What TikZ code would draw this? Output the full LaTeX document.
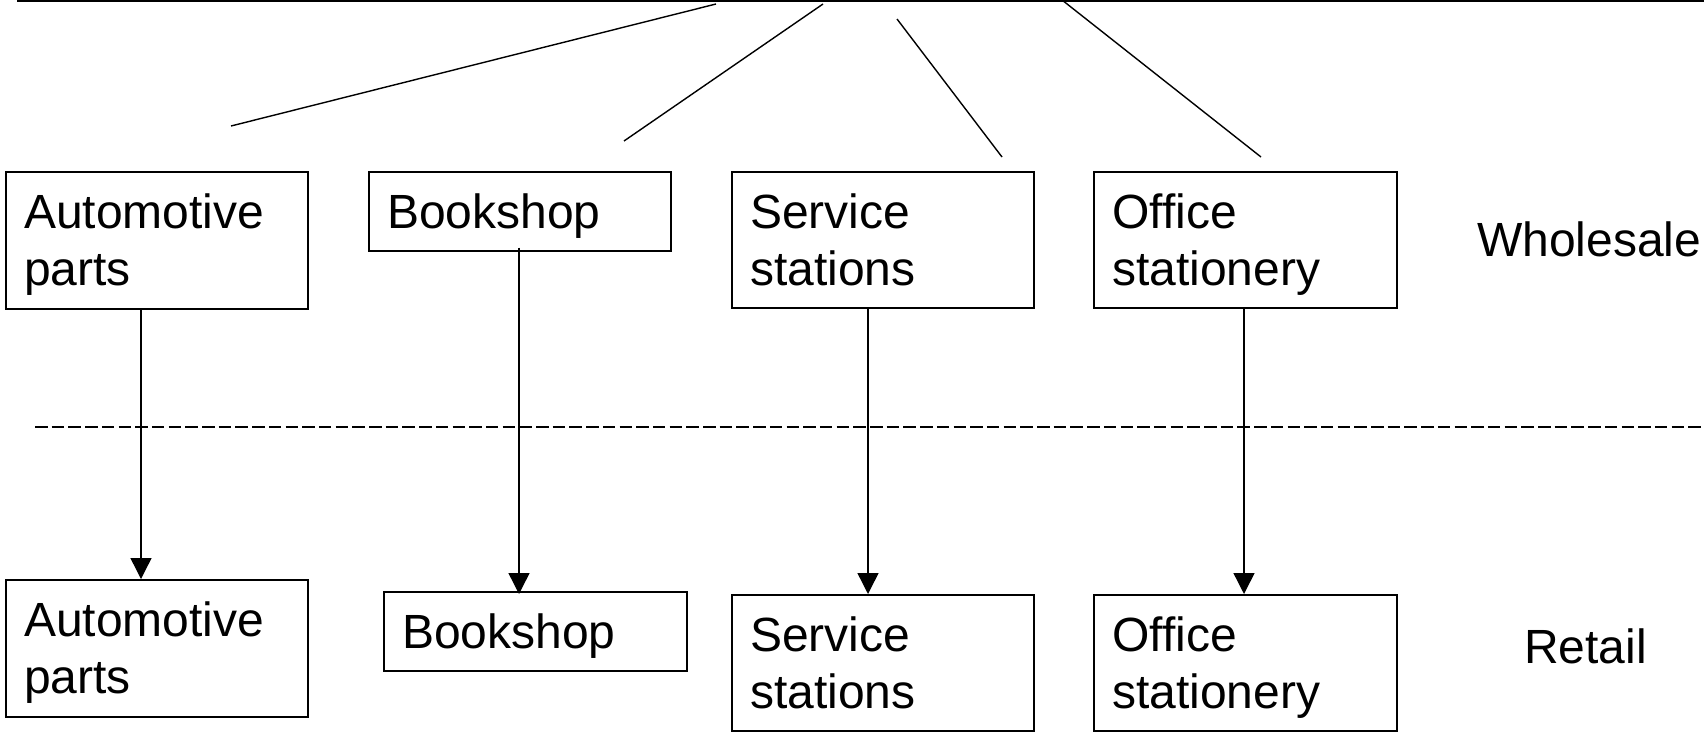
\documentclass[tikz,border=0pt]{standalone}
\usepackage{fontspec}
\setmainfont{Liberation Sans}
\usetikzlibrary{arrows.meta,calc}
\begin{document}
\begin{tikzpicture}[x=1pt,y=-1pt,
  box/.style={draw, line width=1.7pt, rectangle, inner sep=0pt, anchor=north west},
  txt/.style={anchor=base west, inner sep=0pt, font=\fontsize{48}{57}\selectfont},
  arr/.style={line width=1.4pt, -{Triangle[width=21pt,length=21pt]}},
  ln/.style={line width=1.4pt}]
\useasboundingbox (0,0) rectangle (1704,731);

% top boxes (wholesale)
\node[box, minimum width=302pt, minimum height=137pt] (wa) at (5,171) {};
\node[box, minimum width=302pt, minimum height=79pt]  (wb) at (368,171) {};
\node[box, minimum width=302pt, minimum height=136pt] (ws) at (731,171) {};
\node[box, minimum width=303pt, minimum height=136pt] (wo) at (1093,171) {};
% bottom boxes (retail)
\node[box, minimum width=302pt, minimum height=137pt] (ra) at (5,579) {};
\node[box, minimum width=303pt, minimum height=79pt]  (rb) at (383,591) {};
\node[box, minimum width=302pt, minimum height=136pt] (rs) at (731,594) {};
\node[box, minimum width=303pt, minimum height=136pt] (ro) at (1093,594) {};

% texts
\node[txt] (wat) at ($(wa.north west)+(19,57)$) {\begin{tabular}[t]{@{}l@{}}Automotive\\parts\end{tabular}};
\node[txt] (wbt) at ($(wb.north west)+(19,57)$) {Bookshop};
\node[txt] (wst) at ($(ws.north west)+(19,57)$) {\begin{tabular}[t]{@{}l@{}}Service\\stations\end{tabular}};
\node[txt] (wot) at ($(wo.north west)+(19,57)$) {\begin{tabular}[t]{@{}l@{}}Office\\stationery\end{tabular}};
\node[txt] (rat) at ($(ra.north west)+(19,57)$) {\begin{tabular}[t]{@{}l@{}}Automotive\\parts\end{tabular}};
\node[txt] (rbt) at ($(rb.north west)+(19,57)$) {Bookshop};
\node[txt] (rst) at ($(rs.north west)+(19,57)$) {\begin{tabular}[t]{@{}l@{}}Service\\stations\end{tabular}};
\node[txt] (rot) at ($(ro.north west)+(19,57)$) {\begin{tabular}[t]{@{}l@{}}Office\\stationery\end{tabular}};
\node[txt] (whole) at (1477,256) {Wholesale};
\node[txt] (retail) at (1524,663) {Retail};

% top line and slanted lines
\coordinate (tl) at (17,1);
\coordinate (tr) at (1704,1);
\draw[ln] (tl) -- (tr);
\coordinate (s1a) at (716,4);   \coordinate (s1b) at (231,126);
\coordinate (s2a) at (823,4);   \coordinate (s2b) at (624,141);
\coordinate (s3a) at (897,19);  \coordinate (s3b) at (1002,157);
\coordinate (s4a) at (1062,0);  \coordinate (s4b) at (1261,157);
\draw[ln] (s1a) -- (s1b);
\draw[ln] (s2a) -- (s2b);
\draw[ln] (s3a) -- (s3b);
\draw[ln] (s4a) -- (s4b);

% dashed separator
\coordinate (dl) at (35,427);
\coordinate (dr) at (1704,427);
\draw[line width=2pt, dash pattern=on 12.5pt off 4.2pt] (dl) -- (dr);

% arrows
\draw[arr] ([xshift=136pt]wa.south west) -- ([xshift=136pt]ra.north west);
\draw[arr] ([xshift=151pt,yshift=4pt]wb.south west) -- ([xshift=136pt,yshift=-3pt]rb.north west);
\draw[arr] ([xshift=137pt]ws.south west) -- ([xshift=137pt]rs.north west);
\draw[arr] ([xshift=151pt]wo.south west) -- ([xshift=151pt]ro.north west);
\end{tikzpicture}
\end{document}
